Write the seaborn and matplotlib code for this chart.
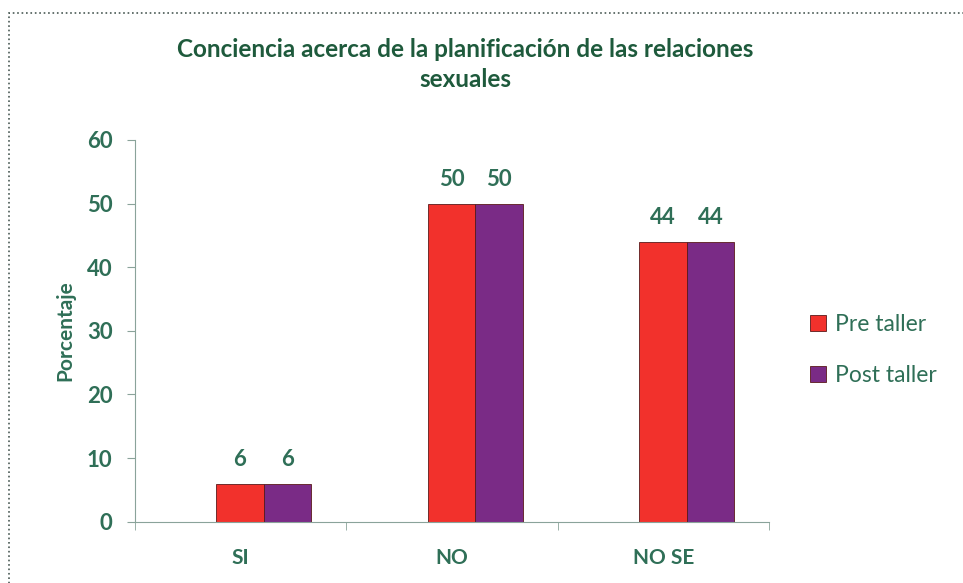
import pandas as pd
import matplotlib.pyplot as plt
import seaborn as sns
from matplotlib.patches import Rectangle

# Data
categorias = ["SI", "NO", "NO SE"]
pre_taller = [6, 50, 44]
post_taller = [6, 50, 44]
series = ["Pre taller", "Post taller"]

df = pd.DataFrame({
    "Respuesta": categorias * 2,
    "Porcentaje": pre_taller + post_taller,
    "Grupo": [series[0]] * 3 + [series[1]] * 3,
})

sns.set_style("white")
plt.rcParams['font.family'] = ['Lato', 'DejaVu Sans']

text_col = "#2f6f57"
title_col = "#1e5a3c"
axis_col = "#8aa39a"
colores = ["#f2312c", "#7a2b86"]

fig = plt.figure(figsize=(9.63, 5.83), dpi=100)
ax = fig.add_axes([0.140, 0.105, 0.659, 0.655])

sns.barplot(data=df, x="Respuesta", y="Porcentaje", hue="Grupo", palette=colores,
            width=0.45, ax=ax, edgecolor="#5a1a1a", linewidth=0.6, saturation=1)

for cont in ax.containers:
    ax.bar_label(cont, padding=10, fontsize=16, fontweight="bold", color=text_col)

# in the original the bars sit a little right of their category centres
shift = 0.109
n = len(categorias)
ax.set_xlim(-0.5 - shift, n - 0.5 - shift)
ax.set_xticks([i - shift for i in range(n)], categorias)
ax.set_xticks([i + 0.5 - shift for i in range(-1, n)], minor=True)

ax.set_ylim(0, 60)
ax.set_yticks(range(0, 61, 10))
ax.set_xlabel("")
ax.set_ylabel("Porcentaje", fontsize=15, fontweight="bold", color=text_col, labelpad=8)
ax.tick_params(axis="y", labelsize=16, colors=text_col, length=6, pad=10, color=axis_col, direction="out", left=True)
ax.tick_params(axis="x", which="major", labelsize=15, colors=text_col, length=0, pad=19)
ax.tick_params(axis="x", which="minor", length=6, color=axis_col, direction="out", bottom=True)
for lbl in ax.get_xticklabels() + ax.get_yticklabels():
    lbl.set_fontweight("bold")

sns.despine(ax=ax, top=True, right=True)
ax.spines["left"].set_color(axis_col)
ax.spines["bottom"].set_color(axis_col)

fig.suptitle("Conciencia acerca de la planificación de las relaciones\nsexuales",
             x=0.483, y=0.935, fontsize=17.5, fontweight="bold", color=title_col, linespacing=1.35)

handles, labels = ax.get_legend_handles_labels()
ax.get_legend().remove()
fig.legend(handles, labels, loc="center left", bbox_to_anchor=(0.82, 0.40), frameon=False,
           fontsize=16.5, labelspacing=1.3, handlelength=0.7, handleheight=0.7, handletextpad=0.4,
           labelcolor=text_col)

fig.patches.append(Rectangle((0.009, -0.01), 1.0, 0.988, transform=fig.transFigure,
                             fill=False, linestyle=":", linewidth=1.2, edgecolor="#4a5a55"))

plt.savefig("out.png", dpi=100)
